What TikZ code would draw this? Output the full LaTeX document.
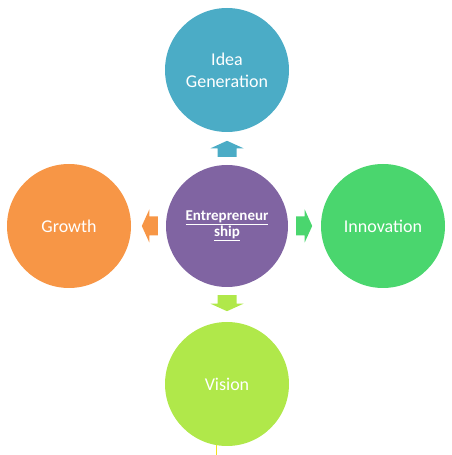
\documentclass[tikz,border=0pt]{standalone}
\usepackage{fontspec}
\setmainfont{Carlito}

\definecolor{ideacol}{HTML}{4BACC6}
\definecolor{hubcol}{HTML}{8064A2}
\definecolor{innocol}{HTML}{4AD66E}
\definecolor{growcol}{HTML}{F79646}
\definecolor{visicol}{HTML}{B0E84A}
\definecolor{tickcol}{HTML}{F2E21A}

\tikzset{
  bubble/.style={circle, minimum size=124pt, inner sep=0pt, text=white,
    font=\fontsize{18}{22}\selectfont, align=center},
  pics/blockarrow/.style={code={
    \fill[#1] (0,-9.5) -- (8.5,-9.5) -- (8.5,-16.5) -- (16,0)
      -- (8.5,16.5) -- (8.5,9.5) -- (0,9.5) -- cycle;
  }}
}

\begin{document}
\begin{tikzpicture}[x=1pt, y=1pt]
    \useasboundingbox (0,0) rectangle (452,455);

    % the middle and the four around it
    \node[bubble, fill=hubcol, minimum size=122pt,
      font=\fontsize{15}{16.5}\selectfont\bfseries] (hub) at (227,229)
      {\underline{Entrepreneur}\\\underline{ship}};
    \node[bubble, fill=ideacol] (idea) at (227,385) {Idea\\Generation};
    \node[bubble, fill=innocol] (inno) at (383,229) {Innovation};
    \node[bubble, fill=growcol] (grow) at (69,229) {Growth};
    \node[bubble, fill=visicol] (visi) at (227,71) {Vision};

    % arrows
    \pic[rotate=90] at ([yshift=8pt]hub.north) {blockarrow=ideacol};
    \pic at ([xshift=8pt]hub.east) {blockarrow=innocol};
    \pic[rotate=180] at ([xshift=-8pt]hub.west) {blockarrow=growcol};
    \pic[rotate=-90] at ([yshift=-8pt]hub.south) {blockarrow=visicol};

    \coordinate (tick) at (216,0);
    \draw[tickcol, line width=1pt] (tick) -- ++(0,10);
\end{tikzpicture}
\end{document}
